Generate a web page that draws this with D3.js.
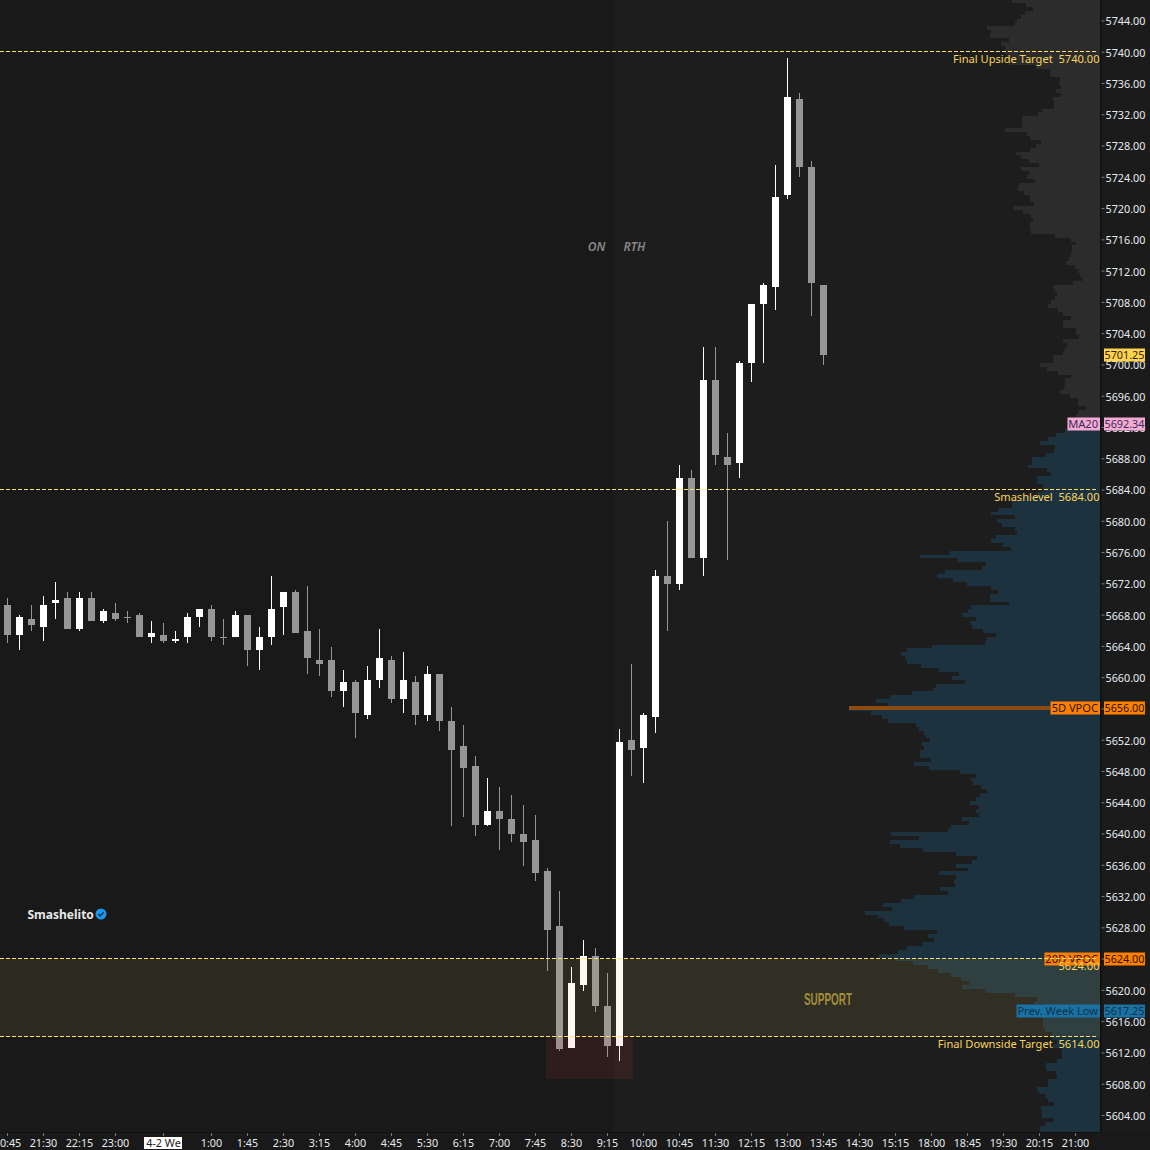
<!DOCTYPE html>
<html>
<head>
<meta charset="utf-8">
<script src="https://cdn.jsdelivr.net/npm/d3@7/dist/d3.min.js"></script>
<style>
html,body{margin:0;padding:0;background:#191919;overflow:hidden}
svg{display:block}
text{font-family:"Noto Sans",sans-serif;white-space:pre}
</style>
</head>
<body>
<svg id="c" width="1150" height="1150"></svg>
<script>
// ---- candles (15 min bars) ----
const open = [5669.25,5665.5,5667.5,5666.5,5669.5,5670.25,5666.25,5670.25,5667.25,5668.25,5667.75,5668,5665.25,5665.5,5664.75,5665.25,5667.75,5668.75,5665.25,5665.25,5668,5663.5,5665.25,5669,5671,5666,5662.25,5662.25,5658.25,5659.5,5655.25,5659.75,5662.25,5657.25,5659.5,5655.25,5660.5,5654.5,5651.25,5648.75,5641.25,5643,5642,5640,5639.25,5635.25,5628.25,5612.75,5620.75,5624.5,5618,5613,5652,5651,5655,5673,5672,5685.5,5675.25,5698,5688.25,5687.5,5700.25,5707.75,5710,5721.75,5734,5725.25,5710.25];
const high = [5670.25,5668,5669.25,5670.5,5672.25,5671,5671,5671,5668.75,5669.5,5668.5,5668.25,5667.25,5667,5666,5668.25,5668.75,5669.25,5667.5,5668.5,5668,5666.5,5673,5671,5671.25,5671.75,5666.25,5664,5661,5659.75,5661.5,5666.25,5662.75,5663.25,5660.25,5661.5,5660.5,5656.25,5654,5650,5647.25,5646,5645,5643.75,5642.5,5635.75,5632.75,5623,5626.5,5625.5,5622.25,5653.5,5661.75,5655.5,5673.75,5680,5687.25,5686.5,5702.25,5702.25,5691.25,5700.5,5707.75,5710.5,5725.5,5739.25,5734.75,5726,5710.25];
const low = [5664.5,5663.5,5666,5664.75,5667.5,5666.25,5666,5667.25,5667,5667.25,5667,5665.25,5664.5,5664.5,5664.5,5664.5,5666.5,5664.75,5664.25,5665.25,5661.5,5661,5664.25,5665.5,5665.75,5660.5,5660.25,5657.5,5656.25,5652.25,5654.75,5658.75,5656.75,5655.5,5654,5654.5,5653.25,5641,5642.25,5639.75,5641,5638,5639,5636,5634,5622.5,5612.25,5612.75,5620,5617.25,5611.5,5611,5647.5,5646.5,5653,5666,5671.25,5675.25,5673,5687.25,5675,5685.5,5697.75,5700.25,5707,5721.25,5724,5706.25,5700];
const close = [5665.5,5667.75,5666.75,5669.25,5670,5666.25,5670.25,5667.25,5668.5,5667.5,5667.75,5665.25,5665.75,5664.75,5665,5667.75,5668.75,5665.25,5665.25,5668,5663.5,5665.25,5668.75,5671,5665.75,5662.5,5661.75,5658.25,5659.5,5655.5,5659.75,5662.5,5657.25,5659.75,5655.25,5660.5,5654.5,5650.75,5648.5,5641.25,5643,5642,5640,5639,5635,5627.75,5612.5,5621,5624.5,5618,5613,5651.75,5650.75,5655.25,5673,5672,5685.5,5675.25,5698,5688.5,5687.25,5700.25,5707.75,5710.25,5721.5,5734.25,5725.25,5710.5,5701.25];

// ---- time axis: bar slot, label ----
const timeSlots  = [0,3,6,9,13,17,20,23,26,29,32,35,38,41,44,47,50,53,56,59,62,65,68,71,74,77,80,83,86,89];
const timeLabels = ["20:45","21:30","22:15","23:00","4-2 We","1:00","1:45","2:30","3:15","4:00","4:45","5:30","6:15","7:00","7:45","8:30","9:15","10:00","10:45","11:30","12:15","13:00","13:45","14:30","15:15","18:00","18:45","19:30","20:15","21:00"];

// ---- price axis ----
const priceTicks = [5744,5740,5736,5732,5728,5724,5720,5716,5712,5708,5704,5700,5696,5692,5688,5684,5680,5676,5672,5668,5664,5660,5656,5652,5648,5644,5640,5636,5632,5628,5624,5620,5616,5612,5608,5604];

// ---- volume profile, half point rows, one list per stretch of price ----
const volFrom5746_5 = [88,74,67,75,79,83,85,113,109,110,91,99,95,95,93,93,91,64,50,50,40,41,39,44,39,47,46,46,58,62,78,78,78,95,73,70,59,64,70,84,79,71,61,79,71,73,65,81,82,76,70,70,66,87,77,69];
const volFrom5718_5 = [67,70,70,69,45,29,24,28,28,29,31,34,25,22,20,18,27,47,45,43,45,49,52,42,37,29,37,37,24,24,21,37,33,35,37,47,47,60,53,42,29,35,35,36,40,30,22,22,14,22,24,28,32,33,35];
const volFrom5691 = [44,52,60,45,46,54,68,68,72,53,49,63,63,57,57,63,77,88,88,102,109,85,103,98,85,83,104,109,97,89,150,180,143,114,118,155,163,147,133,109,102,110,110,91,129,132,138,124,130,128,117,104,113,115,168,193,199,195,193,179,161,141,148,135,164,167,188,210];
const volFrom5657 = [224,212,251,229,218,212,184,181,176,174,170,178,176,180,180,169,186,171,140,124,129,127,119,113,120,124,130,121,124,121,138,131,149,152,209,181,210,200,177,144,123,128,144,132,161,144,146,145,160,152,186,199,217,208,235,222,216,211,196,163,172,166,177,193,202,221];
const volFrom5624 = [205,187,172,162,149,139,130,138,114,85,63,66,57,57,50,57,57,57,55,48,48,43,47,38,38,38,43,54,54,44,43,52,52,63,61,55,52,46,59,58,58,47,55,60,60];
const volumeStretches = [[5746.5,volFrom5746_5],[5718.5,volFrom5718_5],[5691,volFrom5691],[5657,volFrom5657],[5624,volFrom5624]];
const valueAreaHigh = 5691.5;

// ---- levels ----
const dashedLevels = [5740,5684,5624,5614];
const levelNames   = ["Final Upside Target  5740.00","Smashlevel  5684.00","5624.00","Final Downside Target  5614.00"];
const supportZone  = [5624,5614];
const redBox       = {slotA:44.875,slotB:52.125,top:5614,bottom:5608.6};
const sessionSlot  = 50.5;
const vpocPrice    = 5656;
const maxVolume    = 251;

// ---- tags ----
const tagPrices = [5701.25,5692.34,5656,5624,5617.25];
const tagFill   = ["#ffd34e","#f6a9d2","#ff7f00","#ff7f00","#1a71a3"];
const tagInk    = ["#2a2208","#33305c","#2a1400","#2a1400","#0f3149"];
const tagNames  = ["","MA20","5D VPOC","20D VPOC","Prev. Week Low"];
const tagNameW  = [0,32.5,49.5,55.5,83.5];

const W=1150,H=1150,plotR=1100,plotB=1132;
const x=d3.scaleLinear().domain([0,89]).range([7.5,1075.5]);
const y=d3.scaleLinear().domain([5604,5744]).range([1116,20.5]);
const yLevels=d3.scaleLinear().domain([5614,5740]).range([1036.8,51.7]);
const vx=d3.scaleLinear().domain([0,maxVolume]).range([plotR,849]);
const ry=p=>Math.round(y(p));

const svg=d3.select("#c");
// backgrounds
svg.append("rect").attr("width",W).attr("height",H).attr("fill","#191919");
svg.append("rect").attr("x",x(sessionSlot)).attr("y",0).attr("width",plotR-x(sessionSlot)).attr("height",plotB).attr("fill","#1d1d1d");
svg.append("rect").attr("x",plotR).attr("y",0).attr("width",W-plotR).attr("height",H).attr("fill","#1b1b1b");
svg.append("rect").attr("x",0).attr("y",plotB).attr("width",W).attr("height",H-plotB).attr("fill","#191919");

// volume profile
const rows=volumeStretches.flatMap(([start,vals])=>vals.map((v,i)=>({p:start-i*0.5,v})));
svg.append("g").selectAll("rect").data(rows).join("rect")
  .attr("x",d=>Math.round(vx(d.v))).attr("width",d=>plotR-Math.round(vx(d.v)))
  .attr("y",d=>ry(d.p+0.25)).attr("height",d=>Math.min(ry(d.p-0.25),plotB)-ry(d.p+0.25))
  .attr("fill",d=>d.p>valueAreaHigh?"#2c2c2c":"#1c323e");

// candles
const bars=open.map((o,i)=>({i,o,h:high[i],l:low[i],c:close[i],up:close[i]>o}));
const cg=svg.append("g");
cg.selectAll("line").data(bars).join("line")
  .attr("x1",d=>x(d.i)).attr("x2",d=>x(d.i))
  .attr("y1",d=>ry(d.h)).attr("y2",d=>ry(d.l))
  .attr("stroke",d=>d.up?"#fff":"#969696").attr("stroke-width",1);
cg.selectAll("rect").data(bars).join("rect")
  .attr("x",d=>x(d.i)-3.5).attr("width",7)
  .attr("y",d=>ry(Math.max(d.o,d.c)))
  .attr("height",d=>Math.max(1,ry(Math.min(d.o,d.c))-ry(Math.max(d.o,d.c))))
  .attr("fill",d=>d.up?"#fff":"#969696");

// zones above candles
svg.append("rect").attr("x",0).attr("width",plotR)
  .attr("y",yLevels(supportZone[0])).attr("height",yLevels(supportZone[1])-yLevels(supportZone[0]))
  .attr("fill","rgb(225,195,95)").attr("fill-opacity",0.1);
svg.append("rect").attr("x",x(redBox.slotA)).attr("width",x(redBox.slotB)-x(redBox.slotA))
  .attr("y",yLevels(redBox.top)).attr("height",yLevels(redBox.bottom)-yLevels(redBox.top))
  .attr("fill","rgb(255,80,80)").attr("fill-opacity",0.09);

// axis frame
svg.append("rect").attr("x",plotR).attr("y",0).attr("width",1.5).attr("height",plotB).attr("fill","#0f0f0f");
svg.append("rect").attr("x",0).attr("y",plotB).attr("width",plotR+1).attr("height",1).attr("fill","#0f0f0f");

// price axis
const yAxis=d3.axisRight(yLevels).tickValues(priceTicks).tickSize(3).tickPadding(1).tickFormat(d3.format(".2f"));
const ya=svg.append("g").attr("transform",`translate(${plotR+1.5},0)`).call(yAxis);
ya.select(".domain").remove();
ya.selectAll("line").attr("stroke","#777");
ya.selectAll("text").attr("fill","#e6ebf0").attr("y",1).style("font-size","10.8px").style("font-family",'"Noto Sans",sans-serif');

// time axis
const xg=svg.append("g");
xg.selectAll("line").data(timeSlots).join("line")
  .attr("x1",d=>x(d)).attr("x2",d=>x(d)).attr("y1",plotB+1).attr("y2",plotB+4).attr("stroke","#777");
timeSlots.forEach((s,i)=>{
  const isDay=timeLabels[i].includes("We");
  if(isDay) xg.append("rect").attr("x",x(s)-19.5).attr("y",plotB+5).attr("width",38).attr("height",12).attr("fill","#fff");
  xg.append("text").attr("x",x(s)).attr("y",plotB+15).attr("text-anchor","middle")
    .attr("fill",isDay?"#222":"#e6ebf0").style("font-size","10.8px").text(timeLabels[i]);
});

// dashed levels
const lv=p=>Math.floor(yLevels(p))+0.5;
svg.append("g").selectAll("line").data(dashedLevels).join("line")
  .attr("x1",0).attr("x2",plotR-2).attr("y1",d=>lv(d)).attr("y2",d=>lv(d))
  .attr("stroke","#ffe066").attr("stroke-width",1).attr("stroke-dasharray","4 2");

// 5D VPOC line
svg.append("line").attr("x1",vx(maxVolume)).attr("x2",plotR-50).attr("y1",Math.round(yLevels(vpocPrice))).attr("y2",Math.round(yLevels(vpocPrice)))
  .attr("stroke","#8a4c12").attr("stroke-width",4);

// tags
tagPrices.forEach((p,i)=>{
  const cy=Math.round(yLevels(p));
  const g=svg.append("g");
  if(tagNames[i]){
    g.append("rect").attr("x",plotR-tagNameW[i]).attr("y",cy-6.5).attr("width",tagNameW[i]).attr("height",13).attr("fill",tagFill[i]);
    g.append("text").attr("x",plotR-2).attr("y",cy+4).attr("text-anchor","end").attr("fill",tagInk[i]).style("font-size","11.1px").text(tagNames[i]);
  }
  g.append("rect").attr("x",1104).attr("y",cy-6.5).attr("width",41).attr("height",13).attr("fill",tagFill[i]);
  g.append("text").attr("x",1124.5).attr("y",cy+4).attr("text-anchor","middle").attr("fill",tagInk[i]).style("font-size","10.8px").text(d3.format(".2f")(p));
});

// dashed line over the 20D VPOC tag
svg.append("line").attr("x1",1044).attr("x2",plotR-2).attr("y1",lv(5624)).attr("y2",lv(5624))
  .attr("stroke","#ffe066").attr("stroke-dasharray","4 2");

// level names
dashedLevels.forEach((p,i)=>{
  svg.append("text").attr("x",plotR-0.5).attr("y",Math.round(yLevels(p))+11).attr("text-anchor","end")
    .attr("fill","#f9d459").style("font-size","11.1px").text(levelNames[i]);
});

// session labels
svg.append("text").attr("x",596.5).attr("y",251).attr("text-anchor","middle").attr("fill","#888")
  .style("font-size","12px").style("font-style","italic").style("font-weight","600").text("ON");
svg.append("text").attr("x",634.5).attr("y",251).attr("text-anchor","middle").attr("fill","#888")
  .style("font-size","12px").style("font-style","italic").style("font-weight","600").text("RTH");

// support label
svg.append("text").attr("x",804).attr("y",1005).attr("fill","#a48d3b")
  .attr("textLength",48).attr("lengthAdjust","spacingAndGlyphs")
  .style("font-family",'"Liberation Sans Narrow","Liberation Sans",sans-serif')
  .style("font-size","17px").style("font-weight","700").text("SUPPORT");

// brand
svg.append("text").attr("x",27.5).attr("y",918.5).attr("fill","#e8e8e8")
  .style("font-size","12px").style("font-weight","700").text("Smashelito");
svg.append("circle").attr("cx",101).attr("cy",914).attr("r",5.5).attr("fill","#1d95ee");
svg.append("path").attr("d","M98.5 914 l1.8 1.9 l3.3 -3.6").attr("fill","none").attr("stroke","#123").attr("stroke-width",1.2);
</script>
</body>
</html>
